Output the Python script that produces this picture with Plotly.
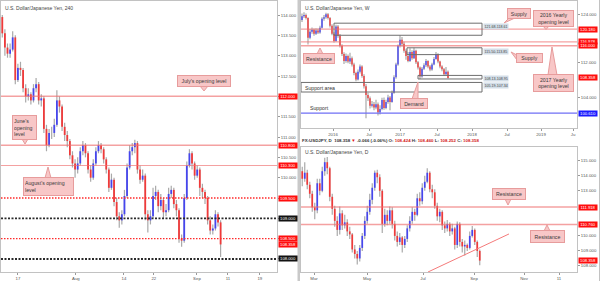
import math
import plotly.graph_objects as go

# ---------------- 4-hour panel data ----------------
h4_first_open = 113.95
h4_close = [113.55, 113.2, 113.05, 113.15, 113.45, 112.4, 112.7, 112.65, 112.2, 112.0,
            112.05, 111.9, 112.2, 112.3, 111.9, 111.95, 111.2, 110.8, 111.1, 111.1,
            111.3, 111.9, 111.75, 111.25, 111.05, 110.9, 110.55, 110.35, 110.2, 110.35,
            110.65, 110.8, 110.6, 110.2, 110.0, 110.35, 110.65, 110.8, 110.7, 110.45,
            110.2, 109.75, 109.95, 109.4, 109.05, 108.95, 109.1, 109.55, 110.25, 110.65,
            110.75, 110.85, 110.2, 109.95, 110.05, 109.1, 108.95, 109.05, 109.55, 109.65,
            109.3, 109.45, 109.15, 109.2, 109.6, 109.7, 109.35, 109.2, 108.5, 108.45,
            109.5, 110.3, 110.6, 110.35, 110.05, 110.2, 109.75, 109.65, 109.5, 108.95,
            108.7, 108.75, 109.1, 108.9, 108.358]
h4_high = [114.0, 113.65, 113.3, 113.3, 113.6, 113.5, 112.8, 112.85, 112.7, 112.3,
           112.2, 112.1, 112.3, 112.45, 112.35, 112.05, 112.0, 111.3, 111.2, 111.25,
           111.45, 112.15, 112.0, 111.8, 111.35, 111.15, 110.95, 110.65, 110.45, 110.5,
           110.75, 110.9, 110.85, 110.65, 110.3, 110.45, 110.75, 110.9, 110.85, 110.75,
           110.5, 110.25, 110.1, 110.0, 109.5, 109.15, 109.2, 109.7, 110.35, 110.8,
           110.85, 110.93, 110.9, 110.3, 110.2, 110.1, 109.2, 109.2, 109.75, 109.8,
           109.7, 109.6, 109.5, 109.35, 109.75, 109.8, 109.75, 109.45, 109.25, 108.6,
           109.6, 110.4, 110.7, 110.65, 110.4, 110.3, 110.25, 109.85, 109.7, 109.55,
           109.05, 108.85, 109.2, 109.15, 108.95]
h4_low = [113.45, 113.0, 112.95, 112.95, 113.1, 112.3, 112.35, 112.5, 112.1, 111.85,
          111.9, 111.8, 111.85, 112.1, 111.8, 111.75, 111.1, 110.65, 110.75, 110.95,
          111.0, 111.25, 111.6, 111.15, 110.9, 110.75, 110.45, 110.25, 110.0, 110.1,
          110.3, 110.55, 110.5, 110.1, 109.9, 109.95, 110.3, 110.6, 110.6, 110.35,
          110.1, 109.65, 109.7, 109.3, 108.95, 108.77, 108.85, 109.05, 109.5, 110.2,
          110.55, 110.6, 110.1, 109.85, 109.9, 108.95, 108.65, 108.85, 109.0, 109.45,
          109.15, 109.2, 109.0, 109.05, 109.15, 109.5, 109.25, 109.05, 108.4, 108.3,
          108.4, 109.45, 110.25, 110.2, 109.95, 110.0, 109.55, 109.5, 109.35, 108.85,
          108.6, 108.6, 108.7, 108.8, 108.05]
h4_tick_pos = [6.0, 28.3, 46.8, 58.3, 74.9, 86.8, 99.1]
h4_tick_text = ["17", "Aug", "14", "22", "Sep", "11", "19"]
h4_solid_levels = [112.0, 110.8, 110.3]
h4_red_dot_levels = [109.5, 108.5]
h4_black_dot_levels = [109.0, 108.0]
last_price = 108.358

# ---------------- weekly panel data ----------------
w_first_open = 122.5
w_close = [123.5, 123.8, 123.0, 118.0, 119.5, 120.0, 119.0, 119.8, 119.3, 120.5,
           122.8, 123.2, 124.0, 123.0, 121.0, 119.0, 117.2, 120.8, 118.5, 116.0,
           114.0, 112.3, 113.5, 112.2, 113.0, 111.5, 109.5, 108.0, 109.8, 111.0,
           108.8, 106.5, 104.5, 103.8, 102.2, 102.5, 101.8, 102.5, 100.8, 101.5,
           103.4, 101.7, 103.0, 104.0, 103.0, 105.0, 108.5, 111.5, 116.0, 117.5,
           116.5, 114.8, 113.5, 112.3, 114.5, 113.0, 114.8, 112.0, 110.8, 108.7,
           110.5, 111.3, 112.3, 111.0, 110.3, 111.5, 112.8, 114.0, 112.2, 111.0,
           110.4, 109.2, 109.8, 108.358]
w_high = [124.2, 124.5, 124.2, 123.2, 120.2, 120.6, 120.3, 120.4, 120.3, 121.0,
          123.2, 123.8, 124.4, 124.3, 123.3, 121.4, 119.4, 121.3, 121.2, 118.9,
          116.4, 114.4, 114.1, 113.9, 114.3, 113.4, 111.9, 109.8, 110.3, 111.5,
          111.3, 109.2, 107.0, 105.0, 104.2, 103.2, 103.0, 103.5, 102.9, 102.3,
          103.9, 104.0, 103.5, 104.6, 104.3, 105.5, 109.0, 111.9, 116.3, 118.6,
          118.2, 117.0, 115.3, 114.5, 115.4, 114.9, 115.5, 115.0, 112.3, 111.0,
          110.9, 111.8, 112.8, 112.5, 111.4, 111.9, 113.3, 114.5, 114.2, 112.4,
          111.3, 110.7, 110.9, 110.1]
w_low = [122.0, 123.0, 122.6, 116.3, 117.6, 119.0, 118.5, 118.7, 118.9, 119.0,
         120.3, 122.3, 122.8, 122.6, 120.6, 118.6, 116.8, 117.0, 118.0, 115.6,
         113.5, 111.6, 111.9, 111.8, 111.6, 111.0, 109.0, 107.6, 107.8, 109.4,
         108.4, 106.0, 99.5, 103.2, 101.6, 101.8, 101.2, 101.4, 100.1, 100.3,
         101.2, 101.3, 101.4, 102.6, 101.2, 102.8, 104.8, 108.2, 111.2, 115.6,
         115.8, 114.3, 112.6, 112.0, 112.1, 112.6, 112.8, 111.6, 110.3, 108.1,
         108.4, 110.2, 110.9, 110.6, 109.9, 110.0, 111.3, 112.6, 111.8, 110.6,
         109.9, 108.8, 108.9, 108.25]
w_tick_pos = [15.5, 33.5, 49.0, 67.5, 85.0, 102.5, 119.5, 135.5]
w_tick_text = ["2016", "Jul", "2017", "Jul", "2018", "Jul", "2019", "Ju"]
w_pink_levels = [120.18, 116.978, 116.0]
w_blue_levels = [100.61]
w_zone_hi = [121.68, 115.50, 108.95, 107.34]
w_zone_lo = [118.61, 113.85, 108.13, 105.19]
w_zone_start = [16.0, 52.5, 58.0, -0.5]
w_zone_end = 90.0
w_zone_text = ["121.68-118.61", "115.50-113.85", "108.13-108.95", "105.19-107.34"]

# ---------------- daily panel data ----------------
d_first_open = 114.3
d_close = [113.8, 114.2, 113.4, 112.8, 111.9, 111.7, 113.5, 113.0, 114.3, 114.9,
           114.5, 112.6, 111.8, 111.0, 110.4, 111.5, 110.7, 110.9, 110.3, 110.1,
           109.1, 108.8, 108.5, 109.2, 110.0, 111.0, 111.6, 112.4, 113.2, 114.2,
           113.9, 113.0, 110.8, 111.4, 111.0, 111.7, 110.8, 110.0, 109.6, 109.9,
           109.4, 109.8, 110.5, 111.0, 111.6, 111.4, 112.5, 112.3, 113.2, 113.6,
           114.2, 113.1, 112.9, 112.0, 111.3, 111.6, 110.7, 110.5, 110.8, 110.3,
           110.5, 109.4, 110.8, 109.6, 109.3, 109.4, 109.2, 110.0, 110.4, 109.6,
           109.0, 108.358]
d_high = [114.6, 114.9, 114.4, 113.6, 113.0, 112.2, 113.8, 113.8, 114.6, 115.2,
          115.25, 114.6, 112.8, 112.0, 111.3, 111.95, 111.7, 111.4, 111.1, 110.6,
          110.2, 109.4, 109.0, 109.4, 110.2, 111.3, 112.0, 112.8, 113.5, 114.35,
          114.4, 114.1, 113.1, 111.8, 111.7, 111.95, 111.9, 111.0, 110.3, 110.2,
          110.0, 110.0, 110.7, 111.3, 111.9, 111.8, 112.8, 112.9, 113.5, 114.0,
          114.5, 114.3, 113.4, 113.1, 112.2, 111.8, 111.7, 110.95, 111.05, 110.9,
          110.8, 110.6, 110.95, 110.9, 109.8, 109.7, 109.5, 110.3, 110.65, 110.5,
          109.7, 109.1]
d_low = [113.3, 113.6, 113.1, 112.5, 111.6, 111.1, 111.5, 112.7, 112.9, 114.0,
         114.1, 112.3, 111.4, 110.6, 110.0, 110.1, 110.4, 110.5, 110.0, 109.8,
         108.9, 108.5, 108.1, 108.3, 109.0, 109.8, 110.8, 111.4, 112.1, 113.0,
         113.5, 112.6, 110.2, 110.6, 110.7, 110.8, 110.5, 109.7, 109.3, 109.4,
         108.9, 109.2, 109.6, 110.3, 110.8, 111.0, 111.3, 112.0, 112.1, 113.0,
         113.5, 112.9, 112.5, 111.8, 111.0, 110.9, 110.4, 110.2, 110.3, 110.0,
         110.1, 109.1, 109.2, 109.3, 108.9, 108.7, 109.0, 109.1, 109.9, 109.4,
         108.6, 108.05]
d_tick_pos = [4.7, 25.9, 48.3, 68.7, 88.7, 102.7]
d_tick_text = ["Mar", "May", "Jul", "Sep", "Nov", "11"]
d_ytick_vals = [108, 109, 110, 113, 114, 115]
d_pink_levels = [111.918, 110.76]
d_trend_x = [50.3, 82.7]
d_trend_y = [107.6, 110.13]

# ---------------- styling ----------------
FONT = "Liberation Sans, Arial, sans-serif"
UP = "#4646ee"
DOWN = "#f03a3a"
WICK = "#a9a9a9"
PINK = "#f8c7c7"
PINK_EDGE = "#e79c9c"
LINE_PINK = "rgba(238,110,110,0.65)"
TAG_RED = "#ff0d0d"
FRAME = "#c2c2c2"

fig = go.Figure()


def add_candles(first_open, closes, highs, lows, xa, ya, bw):
    opens = [first_open] + closes[:-1]
    wx, wy, ux, uy, dx, dy = [], [], [], [], [], []
    for i, (o, h, l, c) in enumerate(zip(opens, highs, lows, closes)):
        wx += [i, i, None]
        wy += [l, h, None]
        if c >= o:
            ux += [i, i, None]
            uy += [o, c, None]
        else:
            dx += [i, i, None]
            dy += [o, c, None]
    fig.add_trace(go.Scatter(x=wx, y=wy, mode="lines", line=dict(color=WICK, width=1.2),
                             xaxis=xa, yaxis=ya, hoverinfo="skip"))
    fig.add_trace(go.Scatter(x=ux, y=uy, mode="lines", line=dict(color=UP, width=bw),
                             xaxis=xa, yaxis=ya, hoverinfo="skip"))
    fig.add_trace(go.Scatter(x=dx, y=dy, mode="lines", line=dict(color=DOWN, width=bw),
                             xaxis=xa, yaxis=ya, hoverinfo="skip"))


add_candles(h4_first_open, h4_close, h4_high, h4_low, "x", "y", 1.8)
add_candles(w_first_open, w_close, w_high, w_low, "x2", "y2", 1.4)
add_candles(d_first_open, d_close, d_high, d_low, "x3", "y3", 1.7)

# daily trendline
fig.add_trace(go.Scatter(x=d_trend_x, y=d_trend_y, mode="lines",
                         line=dict(color="#f47a7a", width=1), xaxis="x3", yaxis="y3",
                         hoverinfo="skip"))

# weekly levels and zones drawn as traces (log axis)
W_XMIN, W_XMAX = -0.5, 137.5
for lv in w_pink_levels:
    fig.add_trace(go.Scatter(x=[W_XMIN, W_XMAX], y=[lv, lv], mode="lines",
                             line=dict(color=LINE_PINK, width=1.3), xaxis="x2", yaxis="y2",
                             hoverinfo="skip"))
for lv in w_blue_levels:
    fig.add_trace(go.Scatter(x=[W_XMIN, W_XMAX], y=[lv, lv], mode="lines",
                             line=dict(color="#6f6ff5", width=1.2), xaxis="x2", yaxis="y2",
                             hoverinfo="skip"))
for hi, lo, x0 in zip(w_zone_hi, w_zone_lo, w_zone_start):
    fig.add_trace(go.Scatter(x=[x0, w_zone_end, w_zone_end, x0, x0],
                             y=[lo, lo, hi, hi, lo], mode="lines",
                             line=dict(color="#6e6e6e", width=1), xaxis="x2", yaxis="y2",
                             hoverinfo="skip"))


def hline(yref, y, color, width, dash="solid"):
    fig.add_shape(type="line", xref=yref.replace("y", "x") + " domain", yref=yref,
                  x0=0, x1=1, y0=y, y1=y, line=dict(color=color, width=width, dash=dash),
                  layer="above")


def tag(yref, y, text, bg, xpx):
    fig.add_annotation(xref="paper", x=xpx / 600, xanchor="left", yref=yref, y=y,
                       yanchor="middle", text=text, showarrow=False, bgcolor=bg,
                       font=dict(family=FONT, size=4.2, color="white"),
                       width=17, height=4.4, borderpad=0.5)


# ---- 4H levels ----
for lv in h4_solid_levels:
    hline("y", lv, LINE_PINK, 1.5 if lv != 110.3 else 1.1)
for lv in h4_red_dot_levels:
    hline("y", lv, "#ff2a2a", 1.4, "1.5px,1.5px")
for lv in h4_black_dot_levels:
    hline("y", lv, "#2a2a2a", 1.8, "2px,1.5px")
for lv in h4_solid_levels + h4_red_dot_levels:
    tag("y", lv, f"{lv:.3f}", TAG_RED, 278)
for lv in h4_black_dot_levels:
    tag("y", lv, f"{lv:.3f}", "#111111", 278)
tag("y", last_price, f"{last_price:.3f}", TAG_RED, 278)

# ---- weekly tags & zone labels ----
for lv in w_pink_levels:
    tag("y2", math.log10(lv), f"{lv:.3f}", TAG_RED, 578)
for lv in w_blue_levels:
    tag("y2", math.log10(lv), f"{lv:.3f}", "#1a1aff", 578)
tag("y2", math.log10(last_price), f"{last_price:.3f}", TAG_RED, 578)
for hi, txt in zip(w_zone_hi, w_zone_text):
    fig.add_annotation(xref="x2", yref="y2", x=w_zone_end, y=math.log10(hi),
                       xanchor="left", yanchor="top", text=txt, showarrow=False,
                       bgcolor="#d3dee8", font=dict(family=FONT, size=3.6, color="#444"),
                       borderpad=0.6, xshift=1)

# ---- daily levels ----
for lv in d_pink_levels:
    hline("y3", lv, LINE_PINK, 1.5)
    tag("y3", lv, f"{lv:.3f}", TAG_RED, 578)
tag("y3", last_price, f"{last_price:.3f}", TAG_RED, 578)


# ---- callouts ----
def P(x, y):
    return f"{x / 600:.5f},{1 - y / 281:.5f}"


def callout(x0, y0, x1, y1, text, tri=None, align="center"):
    if tri:
        fig.add_shape(type="path", xref="paper", yref="paper",
                      path="M" + P(*tri[0]) + " L" + P(*tri[1]) + " L" + P(*tri[2]) + " Z",
                      fillcolor=PINK, line=dict(color=PINK_EDGE, width=1), layer="above")
    fig.add_annotation(xref="paper", yref="paper", x=(x0 + x1) / 2 / 600,
                       y=1 - (y0 + y1) / 2 / 281, xanchor="center", yanchor="middle",
                       text=text, showarrow=False, width=x1 - x0 - 4, height=y1 - y0 - 4,
                       bgcolor=PINK, bordercolor=PINK_EDGE, borderwidth=1, borderpad=1,
                       align=align, font=dict(family=FONT, size=5.2, color="#3a3a3a"))


callout(177, 75, 231, 87, "July's opening level", [(200, 86), (208, 86), (204, 91)])
callout(12, 115, 37, 140, "June's<br>opening<br>level", [(22, 139), (28, 139), (25, 144)], "left")
callout(23, 177, 74, 196, "August's opening<br>level", [(45, 178), (51, 178), (48, 167)], "left")

callout(507, 8, 531, 19, "Supply", [(509, 18), (515, 18), (504, 23)])
callout(533, 10, 574, 27, "2016 Yearly<br>opening level", [(543, 26), (549, 26), (546, 29.5)])
callout(303, 53, 335, 64, "Resistance", [(317, 54), (323, 54), (320, 48)])
callout(516, 53, 543, 63, "Supply", [(517, 55), (517, 60), (511, 52)])
callout(533, 74, 574, 92, "2017 Yearly<br>opening level", [(548, 75), (557, 75), (552, 47)])
callout(400, 98, 428, 109, "Demand", [(412, 99), (418, 99), (418, 82)])

callout(492, 188, 526, 200, "Resistance", [(505, 199), (511, 199), (508, 205)])
callout(530, 230, 565, 243, "Resistance", [(544, 231), (550, 231), (547, 225)])


# plain texts
def text(xpx, ypx, s, size=5.2, color="#333"):
    fig.add_annotation(xref="paper", yref="paper", x=xpx / 600, y=1 - ypx / 281,
                       xanchor="left", yanchor="middle", text=s, showarrow=False,
                       font=dict(family=FONT, size=size, color=color))


text(3, 8, "U.S. Dollar/Japanese Yen, 240", 5.0, "#444")
text(303, 8, "U.S. Dollar/Japanese Yen, W", 5.0, "#444")
text(303, 152, "U.S. Dollar/Japanese Yen, D", 5.0, "#444")
text(303, 88, "Support area")
text(308, 108, "Support")
text(300, 140,
     "<b>FX:USDJPY, D  108.358 <span style='color:#e01010'>▼</span> -0.066 (-0.06%) "
     "O: <span style='color:#d41a1a'>108.424</span> H: <span style='color:#d41a1a'>108.460</span> "
     "L: <span style='color:#d41a1a'>108.252</span> C: <span style='color:#d41a1a'>108.358</span></b>",
     4.4, "#333")

# separators
fig.add_shape(type="rect", xref="paper", yref="paper", x0=297.5 / 600, x1=300 / 600,
              y0=0, y1=1, fillcolor="#c9c9c9", line=dict(width=0), layer="below")
fig.add_shape(type="line", xref="paper", yref="paper", x0=599.5 / 600, x1=599.5 / 600,
              y0=0, y1=1, line=dict(color=FRAME, width=1))

# ---- axes ----
tickfont = dict(family=FONT, size=4.3, color="#555")
common_x = dict(showgrid=False, zeroline=False, showline=True, linecolor=FRAME, mirror=True,
                ticks="outside", ticklen=2, tickcolor="#999", tickfont=tickfont,
                fixedrange=True, automargin=False)
common_y = dict(showgrid=False, zeroline=False, showline=True, linecolor=FRAME, mirror=True,
                side="right", ticks="outside", ticklen=2, tickcolor="#999", tickfont=tickfont,
                fixedrange=True, automargin=False)

fig.update_layout(
    width=600, height=281, margin=dict(l=0, r=0, t=0, b=0),
    paper_bgcolor="white", plot_bgcolor="white", showlegend=False, template="none",
    xaxis=dict(domain=[1 / 600, 277 / 600], range=[-0.5, 105.7], tickvals=h4_tick_pos,
               ticktext=h4_tick_text, anchor="y", **common_x),
    yaxis=dict(domain=[1 - 272 / 281, 1 - 1 / 281], range=[107.68, 114.345], dtick=0.5,
               tick0=108, tickformat=".3f", anchor="x", **common_y),
    xaxis2=dict(domain=[301 / 600, 577 / 600], range=[W_XMIN, W_XMAX], tickvals=w_tick_pos,
                ticktext=w_tick_text, anchor="y2", **common_x),
    yaxis2=dict(domain=[1 - 128 / 281, 1 - 1 / 281], type="log", range=[1.9889, 2.1056],
                tickvals=[104, 112, 124], ticktext=["104.000", "112.000", "124.000"],
                anchor="x2", **common_y),
    xaxis3=dict(domain=[301 / 600, 577 / 600], range=[-0.5, 109.9], tickvals=d_tick_pos,
                ticktext=d_tick_text, anchor="y3", **common_x),
    yaxis3=dict(domain=[1 - 272 / 281, 1 - 147 / 281], range=[107.6, 115.91],
                tickvals=d_ytick_vals, tickformat=".3f", anchor="x3", **common_y),
)

fig.write_html("out.html")
